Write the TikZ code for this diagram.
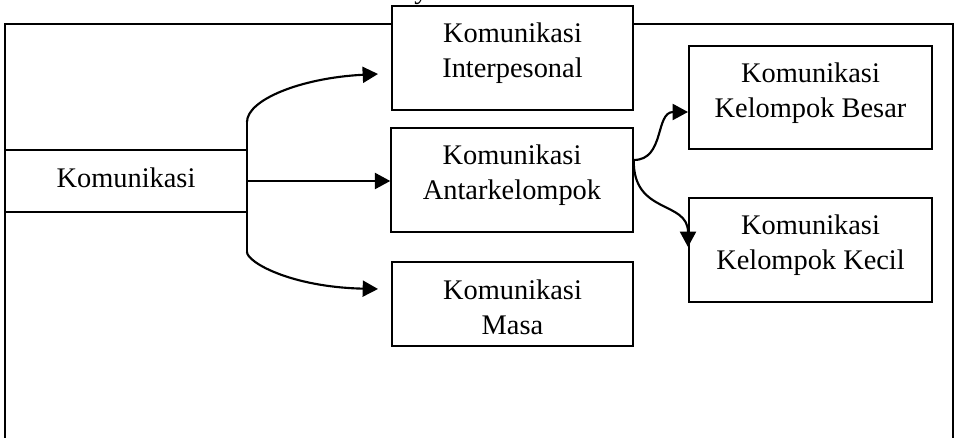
\documentclass[tikz,border=0pt]{standalone}
\usepackage{fontspec}
\setmainfont{Liberation Serif}
\usetikzlibrary{arrows.meta,calc}
\begin{document}
\begin{tikzpicture}[x=0.75pt,y=-0.75pt,
  txt/.style={font=\fontsize{21.3}{26.25}\selectfont},
  boxnode/.style={draw,line width=1.1pt,fill=white,inner sep=0pt},
  lbl/.style={txt,align=center,inner sep=0pt,anchor=north},
  conn/.style={line width=1.6pt,-{Triangle[length=11.5pt,width=12pt]}},
  plainconn/.style={line width=1.6pt}]
\useasboundingbox (0,0) rectangle (954,438);
\clip (0,0) rectangle (954,438);
% cut-off caption fragment
\node[txt,anchor=base west,inner sep=0pt] (ytop) at (414,-1.5) {y};
% outer frame
\draw[line width=1.5pt] (5.3,460) -- (5.3,24) -- (953,24) -- (953,460);
% boxes
\node[boxnode,txt,text depth=5.5pt,minimum width=181.5pt,minimum height=46.5pt] (komu) at (126,181) {Komunikasi};
\node[boxnode,minimum width=180.75pt,minimum height=78pt] (inter) at (512.5,58) {};
\node[boxnode,minimum width=181.5pt,minimum height=78pt] (antar) at (512,180) {};
\node[boxnode,minimum width=180.75pt,minimum height=63pt] (masa) at (512.5,304) {};
\node[boxnode,minimum width=182.25pt,minimum height=77.25pt] (besar) at (810.5,97.5) {};
\node[boxnode,minimum width=182.25pt,minimum height=78pt] (kecil) at (810.5,250) {};
% labels
\node[lbl] (linter) at ($(inter.north)+(0,17.5)$) {Komunikasi\\Interpesonal};
\node[lbl] (lantar) at ($(antar.north)+(0,17.5)$) {Komunikasi\\Antarkelompok};
\node[lbl] (lmasa) at ($(masa.north)+(0,18.5)$) {Komunikasi\\Masa};
\node[lbl] (lbesar) at ($(besar.north)+(0,17.5)$) {Komunikasi\\Kelompok Besar};
\node[lbl] (lkecil) at ($(kecil.north)+(0,17.5)$) {Komunikasi\\Kelompok Kecil};
% connector points
\coordinate (jt) at (247,122);
\coordinate (jb) at (247,252);
\coordinate (tI) at (378,74);
\coordinate (tM) at (378,289);
\coordinate (as) at ($(antar.east)+(0,-20)$);
\coordinate (tB) at (688,112);
\coordinate (tK) at (688,247);
% connectors
\draw[plainconn] (jt) -- (jb);
\draw[conn] (jt) .. controls (247,100) and (300,78) .. (tI);
\draw[conn] (jb) .. controls (247,262) and (290,287) .. (tM);
\draw[conn] (komu.east) -- (komu.east -| antar.west);
\draw[conn] (as) .. controls (665,160) and (655,112) .. (tB);
\draw[conn] (as) .. controls (633,215) and (688,200) .. (tK);
\end{tikzpicture}
\end{document}
